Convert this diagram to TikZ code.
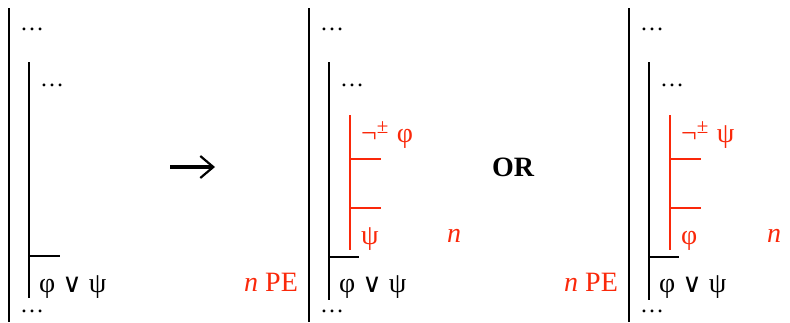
\documentclass[tikz,border=0pt]{standalone}
\usepackage{fontspec}
\setmainfont{Liberation Serif}
\newfontfamily\symf{DejaVu Sans}
\usetikzlibrary{arrows.meta}
\definecolor{pered}{RGB}{250,40,10}
\newcommand{\pmsup}{\raisebox{0.32em}{\fontsize{21}{22}\selectfont ±}}
\newcommand{\orsym}{{\symf\fontsize{26.5}{30}\selectfont ∨}}
\begin{document}
\begin{tikzpicture}[x=1pt,y=-1pt,
  bar/.style={line width=1.6pt,black},
  rbar/.style={line width=1.6pt,pered},
  txt/.style={inner sep=0pt,anchor=base west,font=\fontsize{28}{32}\selectfont},
  rtxt/.style={txt,text=pered},
  dots/.style={inner sep=0pt,anchor=base west,font=\fontsize{24}{26}\selectfont}]
\useasboundingbox[fill=white] (0,0) rectangle (790,322);
% panel 1
\coordinate (o1t) at (9,8); \coordinate (o1b) at (9,322);
\coordinate (i1t) at (29,62); \coordinate (i1b) at (29,298);
\coordinate (k1a) at (29,256); \coordinate (k1b) at (60,256);
\draw[bar] (o1t) -- (o1b);
\draw[bar] (i1t) -- (i1b);
\draw[bar] (k1a) -- (k1b);
\node[dots] (d1a) at (20,30) {…};
\node[dots] (d1b) at (40,86) {…};
\node[dots] (d1c) at (20,312) {…};
\node[txt] (f1) at (39,292) {φ \orsym{} ψ};
% arrow
\coordinate (ara) at (170,167); \coordinate (arb) at (215,167);
\draw[line width=3.5pt,-{Straight Barb[length=13pt,width=22pt,line width=2.2pt]}] (ara) -- (arb);
% OR
\node[inner sep=0pt,font=\fontsize{28}{30}\selectfont\bfseries] (or) at (513,167) {OR};
% panels 2 and 3
\foreach \dx/\top/\bot/\nm in {300/φ/ψ/a,620/ψ/φ/b}{
  \begin{scope}[xshift=\dx pt]
  \coordinate (o\nm t) at (9,8); \coordinate (o\nm b) at (9,322);
  \coordinate (i\nm t) at (29,62); \coordinate (i\nm b) at (29,300);
  \coordinate (k\nm a) at (29,257); \coordinate (k\nm b) at (59,257);
  \draw[bar] (o\nm t) -- (o\nm b);
  \draw[bar] (i\nm t) -- (i\nm b);
  \draw[bar] (k\nm a) -- (k\nm b);
  \coordinate (r\nm t) at (50,115); \coordinate (r\nm b) at (50,250);
  \coordinate (r\nm 1a) at (50,159); \coordinate (r\nm 1b) at (81,159);
  \coordinate (r\nm 2a) at (50,208); \coordinate (r\nm 2b) at (81,208);
  \draw[rbar] (r\nm t) -- (r\nm b);
  \draw[rbar] (r\nm 1a) -- (r\nm 1b);
  \draw[rbar] (r\nm 2a) -- (r\nm 2b);
  \node[dots] (d\nm a) at (20,30) {…};
  \node[dots] (d\nm b) at (40,86) {…};
  \node[dots] (d\nm c) at (20,312) {…};
  \node[txt] (f\nm) at (39,292) {φ \orsym{} ψ};
  \node[rtxt] (h\nm) at (61,142) {¬\pmsup\hspace{0.3em}\top};
  \node[rtxt] (g\nm) at (61,244) {\bot};
  \node[rtxt] (n\nm) at (147,242) {\textit{n}};
  \node[rtxt] (p\nm) at (-56,291) {\textit{n} PE};
  \end{scope}}
\end{tikzpicture}
\end{document}
